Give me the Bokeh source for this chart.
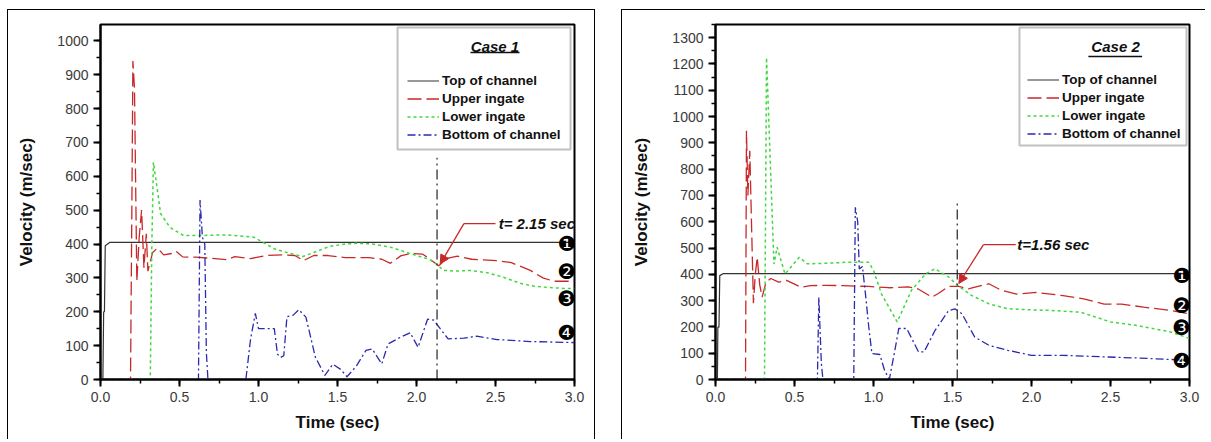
from bokeh.plotting import figure
from bokeh.layouts import row
from bokeh.models import (Range1d, SingleIntervalTicker, Legend, LegendItem,
                          BoxAnnotation, Arrow, NormalHead, NumeralTickFormatter)
from bokeh.core.properties import value
from bokeh.embed import file_html
from bokeh.resources import INLINE

# ---------------- data: Case 1 ----------------
c1_top_x = [0, 0.015, 0.02, 0.025, 0.03, 0.06, 3.0]
c1_top_y = [0, 0, 200, 200, 395, 405, 405]

c1_up_x = [0, 0.19, 0.2, 0.205, 0.215, 0.23, 0.245, 0.26, 0.275, 0.29, 0.30, 0.33, 0.36, 0.40,
           0.45, 0.48, 0.52, 0.60, 0.70, 0.80, 0.85, 0.95, 1.05, 1.15, 1.23, 1.285, 1.35, 1.44,
           1.55, 1.70, 1.78, 1.835, 1.90, 1.96, 2.04, 2.10, 2.14, 2.20, 2.26, 2.35, 2.51, 2.60,
           2.72, 2.80, 2.87, 3.0]
c1_up_y = [0, 0, 600, 940, 860, 290, 420, 500, 330, 430, 320, 375, 388, 368,
           372, 378, 362, 361, 358, 354, 363, 357, 366, 368, 366, 351, 366, 366,
           360, 360, 355, 343, 365, 372, 370, 350, 336, 358, 364, 355, 351, 345,
           322, 300, 290, 290]

c1_low_x = [0, 0.315, 0.325, 0.335, 0.36, 0.38, 0.44, 0.525, 0.63, 0.80, 0.97, 1.10, 1.20, 1.28,
            1.35, 1.45, 1.55, 1.62, 1.72, 1.84, 1.92, 2.00, 2.08, 2.13, 2.17, 2.25, 2.34, 2.45,
            2.55, 2.65, 2.72, 2.82, 2.93, 3.0]
c1_low_y = [0, 0, 400, 641, 560, 490, 449, 425, 425, 427, 420, 386, 372, 363,
            375, 393, 400, 402, 400, 390, 378, 366, 355, 340, 322, 320, 322, 315,
            302, 285, 277, 272, 269, 269]

c1_bot_x = [0, 0.62, 0.63, 0.645, 0.66, 0.67, 0.68, 0.92, 0.95, 0.98, 1.0, 1.1, 1.12, 1.14, 1.16,
            1.18, 1.22, 1.255, 1.30, 1.36, 1.42, 1.47, 1.52, 1.56, 1.62, 1.68, 1.72, 1.78, 1.82,
            1.90, 1.96, 2.01, 2.07, 2.11, 2.15, 2.20, 2.30, 2.38, 2.51, 2.72, 3.0]
c1_bot_y = [0, 0, 530, 420, 400, 80, 0, 0, 120, 195, 150, 150, 75, 65, 70,
            185, 190, 206, 184, 66, 12, 45, 30, 8, 40, 86, 90, 46, 105,
            125, 138, 95, 178, 175, 150, 120, 122, 128, 118, 112, 109]

# ---------------- data: Case 2 ----------------
c2_top_x = [0, 0.012, 0.015, 0.022, 0.027, 0.05, 3.0]
c2_top_y = [0, 0, 199, 199, 395, 403, 403]

c2_up_x = [0, 0.19, 0.196, 0.205, 0.217, 0.24, 0.252, 0.264, 0.28, 0.295, 0.32, 0.35, 0.40, 0.45,
           0.54, 0.60, 0.70, 0.81, 0.89, 0.97, 1.095, 1.22, 1.28, 1.37, 1.41, 1.475, 1.54, 1.60,
           1.73, 1.81, 1.905, 2.03, 2.20, 2.33, 2.46, 2.57, 2.71, 2.88, 3.0]
c2_up_y = [0, 0, 946, 700, 870, 290, 400, 465, 360, 313, 370, 384, 370, 377,
           351, 357, 358, 357, 355, 354, 349, 352, 345, 313, 327, 354, 354, 345,
           364, 339, 325, 331, 319, 307, 287, 287, 275, 263, 250]

c2_low_x = [0, 0.31, 0.323, 0.37, 0.39, 0.44, 0.53, 0.58, 0.70, 0.84, 0.97, 1.0, 1.05, 1.15,
            1.24, 1.33, 1.39, 1.475, 1.54, 1.62, 1.73, 1.85, 2.0, 2.11, 2.31, 2.50, 2.66, 2.88, 3.0]
c2_low_y = [0, 0, 1224, 439, 503, 401, 465, 440, 442, 446, 446, 415, 326, 219,
            339, 402, 421, 390, 354, 320, 288, 269, 265, 263, 256, 219, 206, 181, 156]

c2_bot_x = [0, 0.645, 0.654, 0.67, 0.68, 0.875, 0.885, 0.90, 0.91, 0.93, 0.95, 0.97, 0.99, 1.04,
            1.07, 1.10, 1.135, 1.16, 1.21, 1.285, 1.32, 1.39, 1.475, 1.515, 1.56, 1.64, 1.73,
            1.85, 2.0, 2.2, 2.46, 2.66, 3.0]
c2_bot_y = [0, 0, 313, 60, 0, 0, 655, 600, 420, 430, 320, 200, 99, 95,
            35, 0, 110, 194, 194, 105, 105, 187, 262, 269, 250, 162, 130,
            111, 92, 92, 86, 82, 73]

series_labels = ["Top of channel", "Upper ingate", "Lower ingate", "Bottom of channel"]
marker_labels = ["\u2776", "\u2777", "\u2778", "\u2779"]

# annotation values
c1_marker_x = [2.95, 2.95, 2.95, 2.95]
c1_marker_y = [401, 317, 239, 137]
c2_marker_x = [2.95, 2.95, 2.95, 2.95]
c2_marker_y = [395, 281, 194, 72]

c1_event_t = 2.13
c1_event_top = 655
c1_event_text = "t= 2.15 sec"
c1_callout = dict(text_x=2.52, text_y=460, knee_x=2.30, tip_x=2.15, tip_y=341, line_x=2.50)
c2_event_t = 1.53
c2_event_top = 680
c2_event_text = "t=1.56 sec"
c2_callout = dict(text_x=1.91, text_y=513, knee_x=1.696, tip_x=1.54, tip_y=365, line_x=1.90)

FONT = "Liberation Sans"
C_BLACK = "#333333"
C_RED = "#c82828"
C_GREEN = "#3fd83f"
C_BLUE = "#2a2aae"

FIG_H = 430


def make_panel(case_title, ymax, width, mb_left, mb_right, data, markers, event, legend_pos,
               legend_box, title_pos, underline):
    p = figure(width=width, height=FIG_H, x_range=Range1d(0, 3.0), y_range=Range1d(0, ymax),
               output_backend="svg", toolbar_location=None,
               min_border_left=mb_left, min_border_right=mb_right,
               min_border_top=14, min_border_bottom=FIG_H - 14 - 355)
    p.xgrid.visible = False
    p.ygrid.visible = False
    p.outline_line_color = "black"
    p.outline_line_width = 2
    p.outline_line_alpha = 1
    p.background_fill_color = "white"
    p.border_fill_color = "white"

    for ax in (p.xaxis[0], p.yaxis[0]):
        ax.axis_line_width = 2
        ax.axis_line_color = "black"
        ax.major_tick_in = 0
        ax.major_tick_out = 7
        ax.minor_tick_in = 0
        ax.minor_tick_out = 4
        ax.major_tick_line_width = 2
        ax.minor_tick_line_width = 1.5
        ax.major_label_text_font = FONT
        ax.major_label_text_font_size = "14px"
        ax.major_label_text_color = "#3a3a3a"
        ax.axis_label_text_font = FONT
        ax.axis_label_text_font_size = "17px"
        ax.axis_label_text_font_style = "bold"
        ax.axis_label_text_color = "#111111"
        ax.major_label_standoff = 5

    p.xaxis.ticker = SingleIntervalTicker(interval=0.5, num_minor_ticks=2)
    p.xaxis.formatter = NumeralTickFormatter(format="0.0")
    p.xaxis.axis_label = "Time (sec)"
    p.xaxis.axis_label_standoff = 8
    p.yaxis.ticker = SingleIntervalTicker(interval=100, num_minor_ticks=2)
    p.yaxis.axis_label = "Velocity (m/sec)"
    p.yaxis.axis_label_standoff = 18

    (tx, ty), (ux, uy), (lx, ly), (bx, by) = data
    r_top = p.line(tx, ty, line_color=C_BLACK, line_width=1.2)
    r_up = p.line(ux, uy, line_color=C_RED, line_width=1.3, line_dash="14 5")
    r_low = p.line(lx, ly, line_color=C_GREEN, line_width=1.5, line_dash="3 3")
    r_bot = p.line(bx, by, line_color=C_BLUE, line_width=1.3, line_dash="8 3 2 3")

    # event marker line
    et, etop, etext, call = event
    p.line([et, et], [0, etop], line_color="#222222", line_width=1.2, line_dash="10 4 2 4")
    p.line([call["line_x"], call["knee_x"]], [call["text_y"], call["text_y"]],
           line_color=C_RED, line_width=1.3)
    p.add_layout(Arrow(end=NormalHead(size=9, fill_color=C_RED, line_color=C_RED),
                       x_start=call["knee_x"], y_start=call["text_y"],
                       x_end=call["tip_x"], y_end=call["tip_y"],
                       line_color=C_RED, line_width=1.3))
    p.text([call["text_x"]], [call["text_y"]], text=[etext], text_font=value(FONT),
           text_font_style="bold italic", text_font_size="15px", text_baseline="middle",
           text_align="left", text_color="#111111")

    # numbered markers
    mx, my = markers
    p.text(mx, my, text=marker_labels, text_font=value("DejaVu Sans"), text_font_size="21px",
           text_align="center", text_baseline="middle", text_color="black")

    # legend frame, title and underline
    l, r, b, t = legend_box
    p.add_layout(BoxAnnotation(left=l, right=r, bottom=b, top=t, fill_alpha=0,
                               line_color="#333333", line_width=2))
    p.text([title_pos[0]], [title_pos[1]], text=[case_title], text_font=value(FONT),
           text_font_style="bold italic", text_font_size="15px", text_align="center",
           text_baseline="middle", text_color="#111111")
    p.line([underline[0], underline[1]], [underline[2], underline[2]], line_color="#111111",
           line_width=1.5)

    legend = Legend(items=[LegendItem(label=series_labels[0], renderers=[r_top]),
                           LegendItem(label=series_labels[1], renderers=[r_up]),
                           LegendItem(label=series_labels[2], renderers=[r_low]),
                           LegendItem(label=series_labels[3], renderers=[r_bot])],
                    location=legend_pos, padding=0, margin=0, spacing=3,
                    label_height=15, glyph_height=15, glyph_width=32, label_standoff=3,
                    label_text_font=FONT, label_text_font_style="bold",
                    label_text_font_size="13.5px", label_text_color="#111111",
                    border_line_alpha=0, background_fill_alpha=0)
    p.add_layout(legend)
    return p


p1 = make_panel("Case 1", 1048, 588, 92, 22,
                [(c1_top_x, c1_top_y), (c1_up_x, c1_up_y), (c1_low_x, c1_low_y), (c1_bot_x, c1_bot_y)],
                (c1_marker_x, c1_marker_y),
                (c1_event_t, c1_event_top, c1_event_text, c1_callout),
                (307, 237), (1.88, 2.975, 679, 1039), (2.497, 983), (2.342, 2.652, 965))
p2 = make_panel("Case 2", 1350, 584, 93, 17,
                [(c2_top_x, c2_top_y), (c2_up_x, c2_up_y), (c2_low_x, c2_low_y), (c2_bot_x, c2_bot_y)],
                (c2_marker_x, c2_marker_y),
                (c2_event_t, c2_event_top, c2_event_text, c2_callout),
                (312, 238), (1.924, 2.981, 890, 1339), (2.532, 1266), (2.36, 2.70, 1228))

p1.styles = {"border-left": "1px solid black", "border-top": "1px solid black",
             "border-right": "1px solid black"}
p2.styles = {"border-left": "1px solid black", "border-top": "1px solid black"}
p1.margin = (9, 0, 0, 7)
p2.margin = (9, 0, 0, 0)

layout = row(p1, p2, spacing=26)
open("out.html", "w").write(file_html(layout, INLINE))
